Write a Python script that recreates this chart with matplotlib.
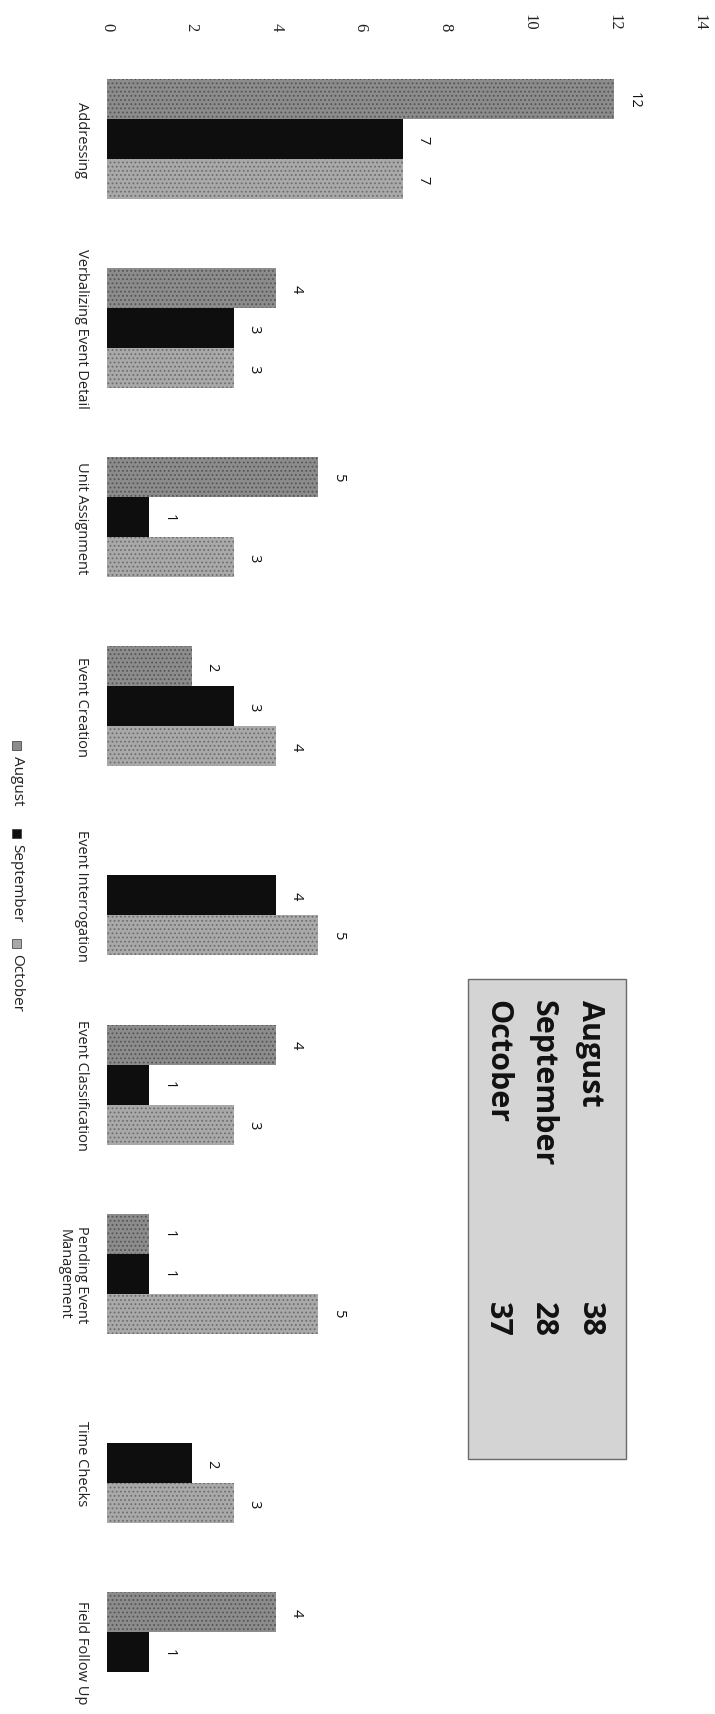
import matplotlib
matplotlib.use("Agg")
import matplotlib.pyplot as plt
from matplotlib.patches import Rectangle

# figure size in pixels (chart is printed rotated 90 deg clockwise)
W, H = 715, 1715

categories = ["Addressing", "Verbalizing Event Detail", "Unit Assignment",
              "Event Creation", "Event Interrogation", "Event Classification",
              "Pending Event\nManagement", "Time Checks", "Field Follow Up"]
august = [12, 4, 5, 2, 0, 4, 1, 0, 4]
september = [7, 3, 1, 3, 4, 1, 1, 2, 1]
october = [7, 3, 3, 4, 5, 3, 5, 3, 0]
series_names = ["August", "September", "October"]
series_colors = ["#8c8c8c", "#0e0e0e", "#a9a9a9"]
hatch_colors = ["#555555", "#0e0e0e", "#6e6e6e"]
totals = [38, 28, 37]
x_ticks = [0, 2, 4, 6, 8, 10, 12, 14]

plt.rcParams['font.family'] = ['Open Sans', 'DejaVu Sans']
plt.rcParams['hatch.linewidth'] = 0.8

fig = plt.figure(figsize=(W / 100, H / 100), dpi=100)

# axes placed in pixel terms: value 0 at x=107, 14 at x=699, top at y=45
ax_top = 45
ax = fig.add_axes([107 / W, 0, (699 - 107) / W, (H - ax_top) / H])

step = 189.1      # pixels between category centres
first = 140       # pixel y of first category centre
bar_h = 40 / step

y = list(range(len(categories)))
for k, (vals, name, col, hc) in enumerate(zip([august, september, october], series_names,
                                              series_colors, hatch_colors)):
    pos = [i + (k - 1) * bar_h for i in y]
    bars = ax.barh(pos, vals, height=bar_h, color=col, edgecolor=hc, linewidth=0,
                   hatch='....' if k != 1 else None, label=name)
    ax.bar_label(bars, labels=[str(v) if v else '' for v in vals], padding=9,
                 rotation=-90, fontsize=10.5, color='#111111')

ax.set_xlim(0, 14)
ax.set_ylim(len(categories) - 1 + (H - (first + step * (len(categories) - 1))) / step,
            -(first - ax_top) / step)

ax.set_xticks(x_ticks)
ax.set_xticklabels([str(t) for t in x_ticks], family='Liberation Serif', fontsize=12)
ax.xaxis.tick_top()
ax.tick_params(axis='x', length=0, pad=10, labelrotation=-90, colors='#222222')

ax.set_yticks(y)
ax.set_yticklabels(categories, fontsize=10.5)
ax.tick_params(axis='y', length=0, pad=13, labelrotation=-90, colors='#222222')
for lab in ax.get_yticklabels():
    lab.set_multialignment('center')
    lab.set_verticalalignment('center')

for s in ax.spines.values():
    s.set_visible(False)

# summary box on the right
def px(x, yy):
    return x / W, 1 - yy / H

bx0, by0 = px(468, 1460)
box = Rectangle((bx0, by0), (626 - 468) / W, (1460 - 980) / H, transform=fig.transFigure,
                facecolor='#d4d4d4', edgecolor='#6a6a6a', linewidth=1)
fig.patches.append(box)
for name, tot, xc in zip(series_names, totals, [590, 543, 497]):
    fx, fy = px(xc, 1000)
    fig.text(fx, fy, name, rotation=-90, ha='center', va='top', fontsize=22,
             fontweight='bold', color='#111111')
    fx, fy = px(xc, 1337)
    fig.text(fx, fy, str(tot), rotation=-90, ha='center', va='bottom', fontsize=22,
             fontweight='bold', color='#111111')

# legend at the bottom (left edge of the rotated page)
leg_y = [742, 830, 940]
for name, col, ly in zip(series_names, series_colors, leg_y):
    mx, my = px(12, ly + 9)
    fig.patches.append(Rectangle((mx, my), 9 / W, 9 / H, transform=fig.transFigure,
                                 facecolor=col, edgecolor='#333333', linewidth=0.5))
    tx, ty = px(17, ly + 14)
    fig.text(tx, ty, name, rotation=-90, ha='center', va='top', fontsize=11,
             color='#222222')

fig.savefig("out.png", dpi=100, facecolor='white')
